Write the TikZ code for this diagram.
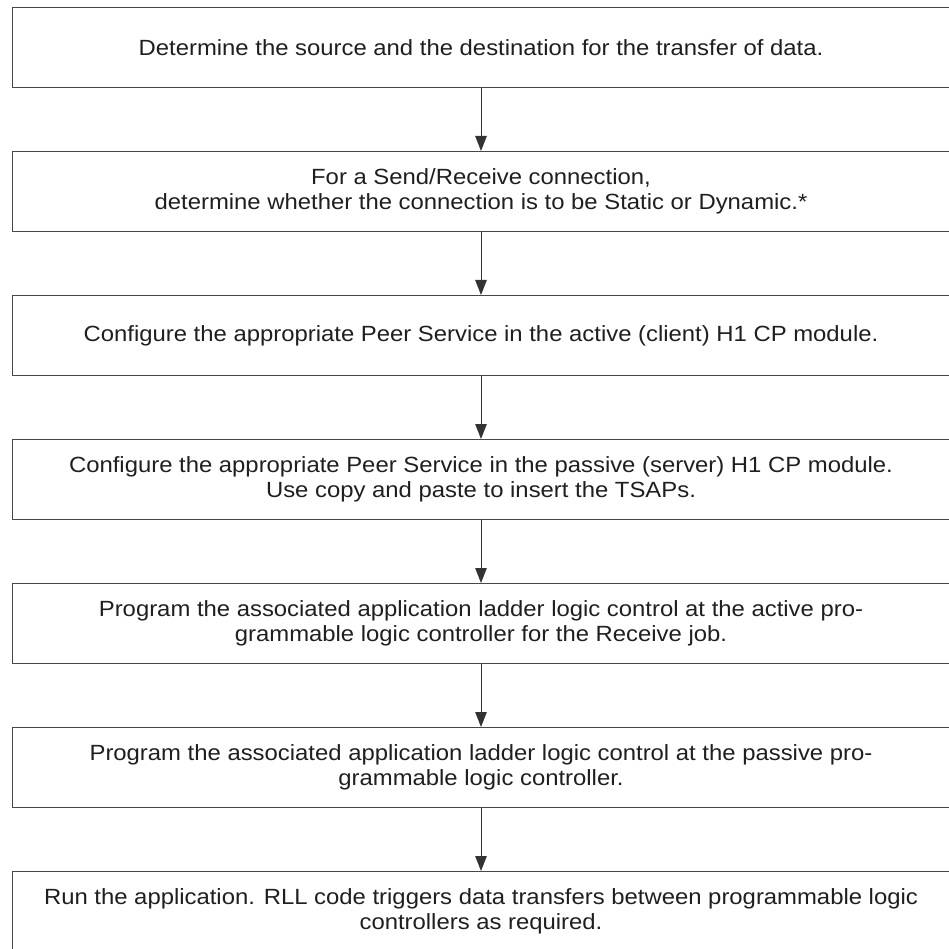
\documentclass[tikz,border=0pt]{standalone}
\usepackage{fontspec}
\setmainfont{Liberation Sans}[FakeStretch=1.085]
\usetikzlibrary{arrows.meta}
\begin{document}
\begin{tikzpicture}[x=1pt,y=-1pt,
  stepbox/.style={draw=black!72,line width=1pt,rectangle,
    minimum width=937pt,minimum height=80pt,inner sep=0pt,
    align=center,text=black!88,
    font=\fontsize{22pt}{25.5pt}\selectfont},
  flow/.style={draw=black!80,line width=1pt,
    -{Triangle[length=15pt,width=11.5pt]}}]
\useasboundingbox (0,0) rectangle (948,949);
\node[stepbox] (s1) at (481,47.5)
  {Determine the source and the destination for the transfer of data.};
\node[stepbox] (s2) at (481,191.5)
  {For a Send/Receive connection,\\determine whether the connection is to be Static or Dynamic.*};
\node[stepbox] (s3) at (481,335.5)
  {Configure the appropriate Peer Service in the active (client) H1 CP module.};
\node[stepbox] (s4) at (481,479.5)
  {Configure the appropriate Peer Service in the passive (server) H1 CP module.\\Use copy and paste to insert the TSAPs.};
\node[stepbox] (s5) at (481,623.5)
  {Program the associated application ladder logic control at the active pro-\\grammable logic controller for the Receive job.};
\node[stepbox] (s6) at (481,767.5)
  {Program the associated application ladder logic control at the passive pro-\\grammable logic controller.};
\node[stepbox] (s7) at (481,911.5)
  {Run the application. RLL code triggers data transfers between programmable logic\\controllers as required.};
\foreach \a/\b in {s1/s2,s2/s3,s3/s4,s4/s5,s5/s6,s6/s7}
  \draw[flow] (\a) -- (\b);
\end{tikzpicture}
\end{document}
